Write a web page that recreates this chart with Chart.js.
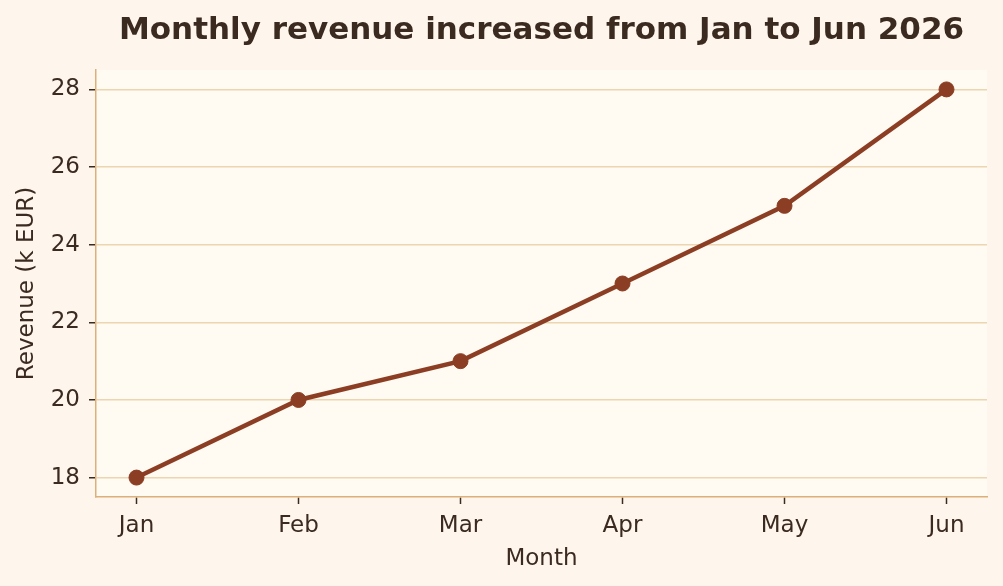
<!DOCTYPE html>
<html>
<head>
<meta charset="utf-8">
<script src="https://cdn.jsdelivr.net/npm/chart.js@4"></script>
<style>
  html, body { margin: 0; padding: 0; background: #fef6ec; }
  #wrap { width: 1003px; height: 586px; }
</style>
</head>
<body>
<div id="wrap"><canvas id="chart" width="1003" height="586"></canvas></div>
<script>
const months = ["Jan", "Feb", "Mar", "Apr", "May", "Jun"];
const revenue = [18, 20, 21, 23, 25, 28];
const yTicks = [18, 20, 22, 24, 26, 28];

const textColor = "#3b2a20";
const font = "'DejaVu Sans', sans-serif";

// fill the plot area with a lighter tone
const plotBg = {
  id: "plotBg",
  beforeDraw(chart) {
    const { ctx, chartArea: a } = chart;
    ctx.save();
    ctx.fillStyle = "#fffaf2";
    ctx.fillRect(a.left, a.top, a.right - a.left, a.bottom - a.top);
    ctx.restore();
  }
};

new Chart(document.getElementById("chart"), {
  type: "line",
  data: {
    datasets: [{
      data: months.map((m, i) => ({ x: i, y: revenue[i] })),
      borderColor: "#8b3e23",
      backgroundColor: "#8b3e23",
      borderWidth: 4.5,
      pointRadius: 7.5,
      pointBorderWidth: 1,
      pointHoverRadius: 7.5,
      tension: 0
    }]
  },
  options: {
    responsive: false,
    animation: false,
    layout: { padding: { left: 0, right: 16, top: 0, bottom: 0 } },
    plugins: {
      legend: { display: false },
      tooltip: { enabled: false },
      title: {
        display: true,
        fullSize: false,
        text: "Monthly revenue increased from Jan to Jun 2026",
        color: textColor,
        font: { family: font, size: 31, weight: "bold" },
        padding: { top: 12, bottom: 20.8 }
      }
    },
    scales: {
      x: {
        type: "linear",
        min: -0.25,
        max: 5.25,
        afterBuildTicks: s => { s.ticks = months.map((m, i) => ({ value: i })); },
        afterFit: s => { s.height = 89; },
        ticks: {
          callback: v => months[v],
          color: textColor,
          font: { family: font, size: 23 },
          padding: 8,
          maxRotation: 0
        },
        grid: { drawOnChartArea: false, tickColor: textColor, tickLength: 7, tickWidth: 1.5 },
        border: { color: "#ddb07a", width: 1.5 },
        title: {
          display: true,
          text: "Month",
          color: textColor,
          font: { family: font, size: 23 },
          padding: 13
        }
      },
      y: {
        min: 17.5,
        max: 28.5,
        afterBuildTicks: s => { s.ticks = yTicks.map(v => ({ value: v })); },
        afterFit: s => { s.width = 96; },
        ticks: {
          color: textColor,
          font: { family: font, size: 23 },
          padding: 9
        },
        grid: { color: "#ecd5b0", lineWidth: 1.5, tickColor: textColor, tickLength: 7, tickWidth: 1.5 },
        border: { color: "#ddb07a", width: 1.5 },
        title: {
          display: true,
          text: "Revenue (k EUR)",
          color: textColor,
          font: { family: font, size: 23 },
          padding: 13
        }
      }
    }
  },
  plugins: [plotBg]
});
</script>
</body>
</html>
